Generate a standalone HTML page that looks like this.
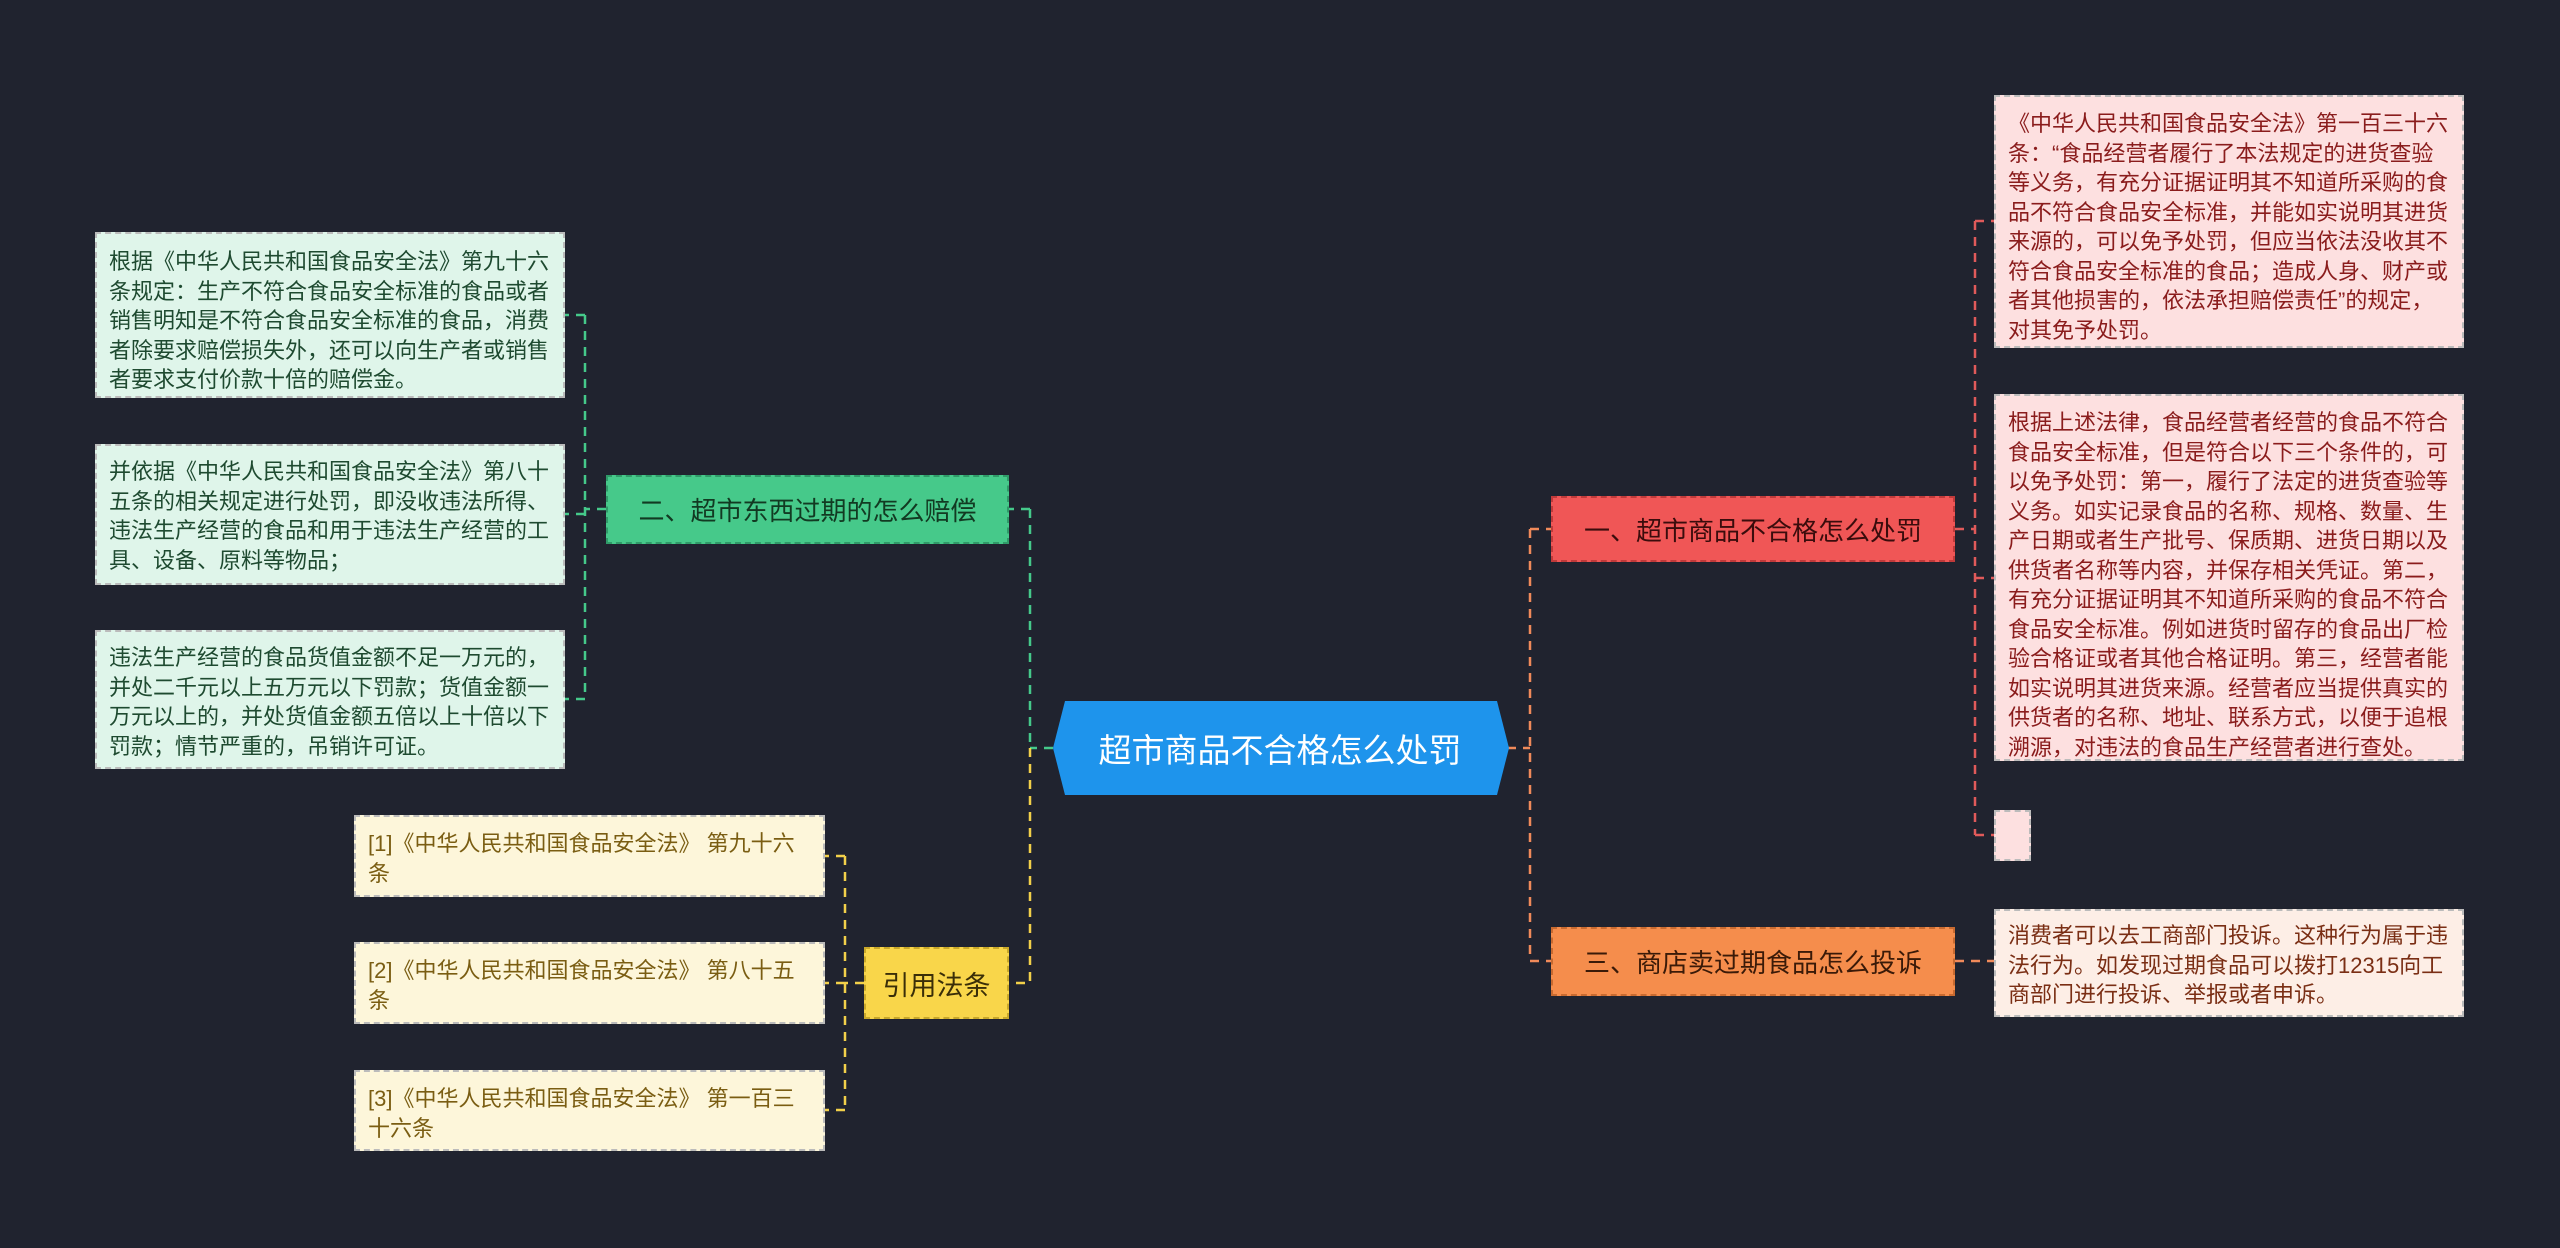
<!DOCTYPE html>
<html><head><meta charset="utf-8"><style>
body{margin:0;width:2560px;height:1248px;background:#20232f;position:relative;overflow:hidden;font-family:"Liberation Sans","Noto Sans CJK SC",sans-serif}
.n{position:absolute;box-sizing:border-box;display:flex;align-items:center;justify-content:center;white-space:nowrap}
.leaf{position:absolute;box-sizing:border-box;border:2px dashed #bbb;font-size:22px;line-height:29.5px;padding:10px 12px;word-break:break-all}
.pk{background:#fde0e0;color:#8a1c1c}
.gr{background:#dff5ea;color:#1e4a30}
.yl{background:#fdf6da;color:#7a5d12;padding:12px 18px 10px 12px}
.or{background:#fdeee6;color:#7a2e14}
</style></head><body>
<svg width="2560" height="1248" style="position:absolute;left:0;top:0">
<g fill="none" stroke-width="2.5" stroke-dasharray="9,7">
<path d="M1507 748 H1530 M1530 529 V961 M1530 529 H1551 M1530 961 H1551" stroke="#f08a5a"/>
<path d="M1955 529 H1975 M1975 221 V835 M1975 221 H1994 M1975 578 H1994 M1975 835 H1994" stroke="#e05a5a"/>
<path d="M1955 961 H1994" stroke="#f08a5a"/>
<path d="M1053 748 H1030 M1030 509 V748 M1030 509 H1009" stroke="#45c98a"/>
<path d="M1030 748 V983 H1009" stroke="#f2d04a"/>
<path d="M606 509 H585 M585 315 V699 M585 315 H565 M585 514 H565 M585 699 H565" stroke="#45c98a"/>
<path d="M864 983 H845 M845 856 V1110 M845 856 H825 M845 983 H825 M845 1110 H825" stroke="#f2d04a"/>
</g></svg>
<svg width="460" height="94" style="position:absolute;left:1051px;top:701px"><polygon points="14,0 446,0 458,47 446,94 14,94 2,47" fill="#1e94ec"/></svg>
<div class="n" style="left:1053px;top:702px;width:454px;height:92px;color:#fff;font-size:33px">超市商品不合格怎么处罚</div>
<div class="n" style="left:1551px;top:496px;width:404px;height:66px;background:#f05656;color:#3a0c0c;font-size:26px;border:2px dashed #c03a3a">一、超市商品不合格怎么处罚</div>
<div class="n" style="left:1551px;top:927px;width:404px;height:69px;background:#f58d4c;color:#3a1a08;font-size:26px;border:2px dashed #c86a30">三、商店卖过期食品怎么投诉</div>
<div class="n" style="left:606px;top:475px;width:403px;height:69px;background:#46c98a;color:#123a22;font-size:26px;border:2px dashed #2f9a68">二、超市东西过期的怎么赔偿</div>
<div class="n" style="left:864px;top:947px;width:145px;height:72px;background:#f9d64a;color:#3a2e08;font-size:27px;border:2px dashed #c9a82a">引用法条</div>
<div class="leaf pk" style="left:1994px;top:95px;width:470px;height:253px;padding-top:12px">《中华人民共和国食品安全法》第一百三十六条：“食品经营者履行了本法规定的进货查验等义务，有充分证据证明其不知道所采购的食品不符合食品安全标准，并能如实说明其进货来源的，可以免予处罚，但应当依法没收其不符合食品安全标准的食品；造成人身、财产或者其他损害的，依法承担赔偿责任”的规定，对其免予处罚。</div>
<div class="leaf pk" style="left:1994px;top:394px;width:470px;height:367px;padding-top:12px">根据上述法律，食品经营者经营的食品不符合食品安全标准，但是符合以下三个条件的，可以免予处罚：第一，履行了法定的进货查验等义务。如实记录食品的名称、规格、数量、生产日期或者生产批号、保质期、进货日期以及供货者名称等内容，并保存相关凭证。第二，有充分证据证明其不知道所采购的食品不符合食品安全标准。例如进货时留存的食品出厂检验合格证或者其他合格证明。第三，经营者能如实说明其进货来源。经营者应当提供真实的供货者的名称、地址、联系方式，以便于追根溯源，对违法的食品生产经营者进行查处。</div>
<div class="leaf pk" style="left:1994px;top:810px;width:37px;height:51px"></div>
<div class="leaf or" style="left:1994px;top:909px;width:470px;height:108px">消费者可以去工商部门投诉。这种行为属于违法行为。如发现过期食品可以拨打12315向工商部门进行投诉、举报或者申诉。</div>
<div class="leaf gr" style="left:95px;top:232px;width:470px;height:166px;padding-top:13px">根据《中华人民共和国食品安全法》第九十六条规定：生产不符合食品安全标准的食品或者销售明知是不符合食品安全标准的食品，消费者除要求赔偿损失外，还可以向生产者或销售者要求支付价款十倍的赔偿金。</div>
<div class="leaf gr" style="left:95px;top:444px;width:470px;height:141px;padding-top:11px">并依据《中华人民共和国食品安全法》第八十五条的相关规定进行处罚，即没收违法所得、违法生产经营的食品和用于违法生产经营的工具、设备、原料等物品；</div>
<div class="leaf gr" style="left:95px;top:630px;width:470px;height:139px;padding-top:11px">违法生产经营的食品货值金额不足一万元的，并处二千元以上五万元以下罚款；货值金额一万元以上的，并处货值金额五倍以上十倍以下罚款；情节严重的，吊销许可证。</div>
<div class="leaf yl" style="left:354px;top:815px;width:471px;height:82px">[1]《中华人民共和国食品安全法》 第九十六条</div>
<div class="leaf yl" style="left:354px;top:942px;width:471px;height:82px">[2]《中华人民共和国食品安全法》 第八十五条</div>
<div class="leaf yl" style="left:354px;top:1070px;width:471px;height:81px">[3]《中华人民共和国食品安全法》 第一百三十六条</div>
</body></html>
